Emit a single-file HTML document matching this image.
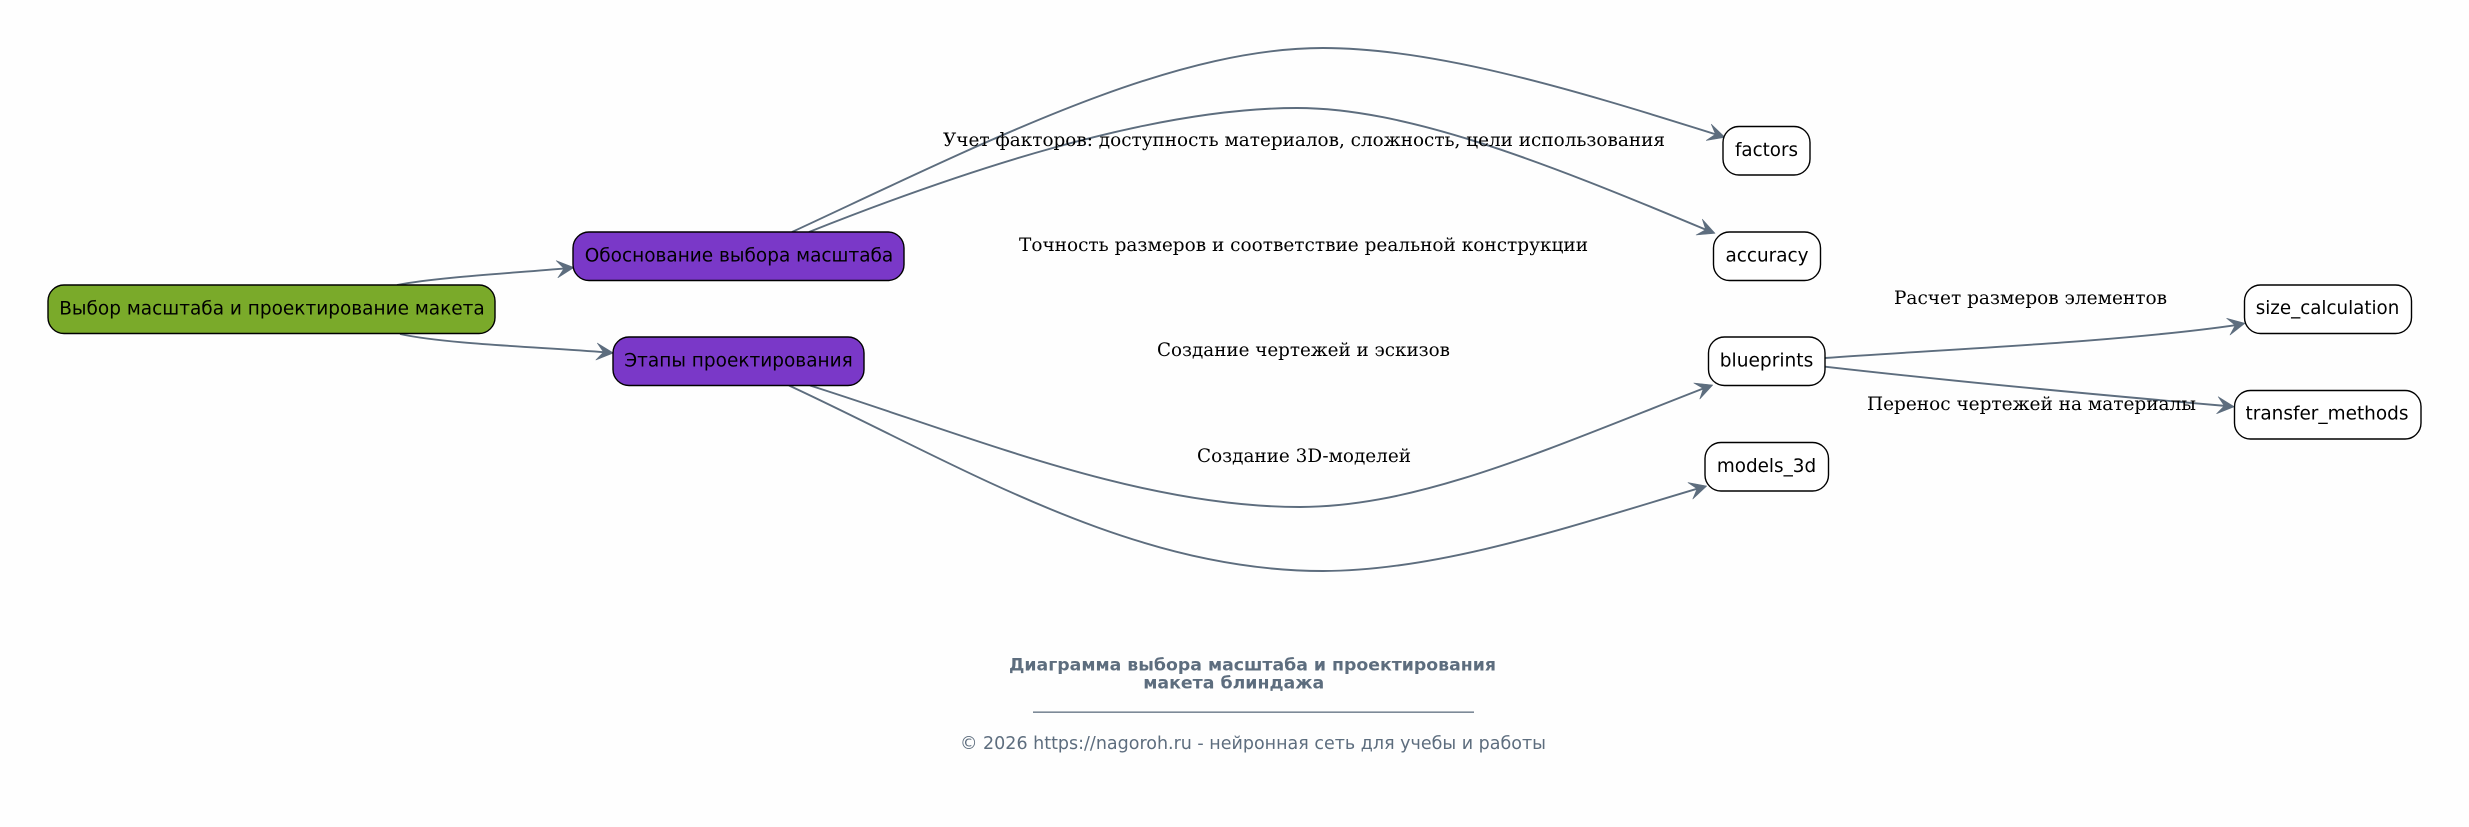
<!DOCTYPE html>
<html><head><meta charset="utf-8">
<style>
html,body{margin:0;padding:0;background:#fefefe;width:2469px;height:827px;overflow:hidden}
svg{display:block}
.n{font-family:"DejaVu Sans",sans-serif;font-size:18.4px;fill:#000;text-anchor:middle;dominant-baseline:central}
.l{font-family:"DejaVu Serif","Liberation Serif",serif;font-size:18.67px;fill:#000;text-anchor:middle;dominant-baseline:central}
.b{stroke:#000;stroke-width:1.4}
.e{fill:none;stroke:#5d6d7e;stroke-width:1.9}
.h{fill:#5d6d7e;stroke:#5d6d7e;stroke-width:0.6;stroke-linejoin:round}
</style></head><body>
<svg width="2469" height="827" viewBox="0 0 2469 827" xmlns="http://www.w3.org/2000/svg">
<rect width="2469" height="827" fill="#fefefe"/>
<path class="e" d="M397,285C440,277 515,273 566,268.300"/>
<path class="h" d="M574,267.500 L556.200,260.700 L564,268.500 L557.900,277.700Z"/>
<path class="e" d="M400,334C445,344 540,347 605.500,352.300"/>
<path class="h" d="M613.500,353 L597.300,343.100 L603.500,352.100 L595.900,360Z"/>
<path class="e" d="M792,232C990,140 1170,48 1323,48C1430,48 1560,85 1717.400,134.900"/>
<path class="h" d="M1725,137.300 L1711.300,124.200 L1715.500,134.300 L1706.300,140.400Z"/>
<path class="e" d="M809,232C960,172 1150,108 1297,108C1405,108 1540,160 1707.500,230.400"/>
<path class="h" d="M1715,233.300 L1702.300,219.200 L1705.700,229.700 L1696.100,235Z"/>
<path class="e" d="M810,385.500C975,438 1140,507 1300,507C1420,507 1550,448 1705.200,387.800"/>
<path class="h" d="M1712.700,385 L1693.800,383 L1703.300,388.500 L1699.800,399Z"/>
<path class="e" d="M789,385.500C960,465 1130,571 1323,571C1440,571 1575,525 1699,488.200"/>
<path class="h" d="M1706.700,486 L1688,482.600 L1697.100,488.800 L1692.800,499Z"/>
<path class="e" d="M1825,358C1950,349 2120,342 2237.200,324.900"/>
<path class="h" d="M2245,323.300 L2226.600,318.300 L2235.200,325.300 L2230,335Z"/>
<path class="e" d="M1825,366.700C1950,381 2100,395 2226.300,406"/>
<path class="h" d="M2234.300,406.700 L2218.200,396.700 L2224.300,405.800 L2216.600,413.700Z"/>

<rect class="b" x="48" y="285" width="447" height="48.500" rx="16" fill="#7aaa2a"/>
<text class="n" x="272" y="309" textLength="425.500" lengthAdjust="spacingAndGlyphs">Выбор масштаба и проектирование макета</text>
<rect class="b" x="573" y="232" width="331" height="48.500" rx="16" fill="#7a38c8"/>
<text class="n" x="739" y="256" textLength="308.500" lengthAdjust="spacingAndGlyphs">Обоснование выбора масштаба</text>
<rect class="b" x="613" y="337" width="251" height="48.500" rx="16" fill="#7a38c8"/>
<text class="n" x="738.500" y="361" textLength="228.500" lengthAdjust="spacingAndGlyphs">Этапы проектирования</text>
<rect class="b" x="1723" y="126.500" width="87" height="48.500" rx="16" fill="#fff"/>
<text class="n" x="1766.500" y="150.500" textLength="63" lengthAdjust="spacingAndGlyphs">factors</text>
<rect class="b" x="1713.500" y="232" width="107" height="48.500" rx="16" fill="#fff"/>
<text class="n" x="1767" y="256" textLength="83" lengthAdjust="spacingAndGlyphs">accuracy</text>
<rect class="b" x="1708.500" y="337" width="116.500" height="48.500" rx="16" fill="#fff"/>
<text class="n" x="1766.500" y="361" textLength="93.500" lengthAdjust="spacingAndGlyphs">blueprints</text>
<rect class="b" x="1705" y="442.500" width="123.500" height="48.500" rx="16" fill="#fff"/>
<text class="n" x="1766.500" y="466.500" textLength="99.300" lengthAdjust="spacingAndGlyphs">models_3d</text>
<rect class="b" x="2244.500" y="285" width="167" height="48.500" rx="16" fill="#fff"/>
<text class="n" x="2327.500" y="308.500" textLength="143.600" lengthAdjust="spacingAndGlyphs">size_calculation</text>
<rect class="b" x="2234.500" y="390.500" width="186.500" height="48.500" rx="16" fill="#fff"/>
<text class="n" x="2327" y="414" textLength="163" lengthAdjust="spacingAndGlyphs">transfer_methods</text>

<text class="l" x="1304" y="140.500" textLength="722" lengthAdjust="spacingAndGlyphs">Учет факторов: доступность материалов, сложность, цели использования</text>
<text class="l" x="1303.500" y="245.500" textLength="569" lengthAdjust="spacingAndGlyphs">Точность размеров и соответствие реальной конструкции</text>
<text class="l" x="1303.500" y="350.500" textLength="293" lengthAdjust="spacingAndGlyphs">Создание чертежей и эскизов</text>
<text class="l" x="1304" y="456.500" textLength="214" lengthAdjust="spacingAndGlyphs">Создание 3D-моделей</text>
<text class="l" x="2030.500" y="298.500" textLength="273" lengthAdjust="spacingAndGlyphs">Расчет размеров элементов</text>
<text class="l" x="2031.500" y="404.500" textLength="329" lengthAdjust="spacingAndGlyphs">Перенос чертежей на материалы</text>

<text x="1252.500" y="665.700" font-family="DejaVu Sans,sans-serif" font-weight="bold" font-size="17.300px" fill="#5d6d7e" text-anchor="middle" dominant-baseline="central" textLength="487" lengthAdjust="spacingAndGlyphs">Диаграмма выбора масштаба и проектирования</text>
<text x="1233.700" y="683.500" font-family="DejaVu Sans,sans-serif" font-weight="bold" font-size="17.300px" fill="#5d6d7e" text-anchor="middle" dominant-baseline="central" textLength="181" lengthAdjust="spacingAndGlyphs">макета блиндажа</text>
<rect x="1033" y="711.500" width="441" height="1.300" fill="#5d6d7e"/>
<text x="1253" y="744" font-family="DejaVu Sans,sans-serif" font-size="17.600px" fill="#5d6d7e" text-anchor="middle" dominant-baseline="central" textLength="586" lengthAdjust="spacingAndGlyphs">© 2026 https://nagoroh.ru - нейронная сеть для учебы и работы</text>
</svg>
</body></html>
